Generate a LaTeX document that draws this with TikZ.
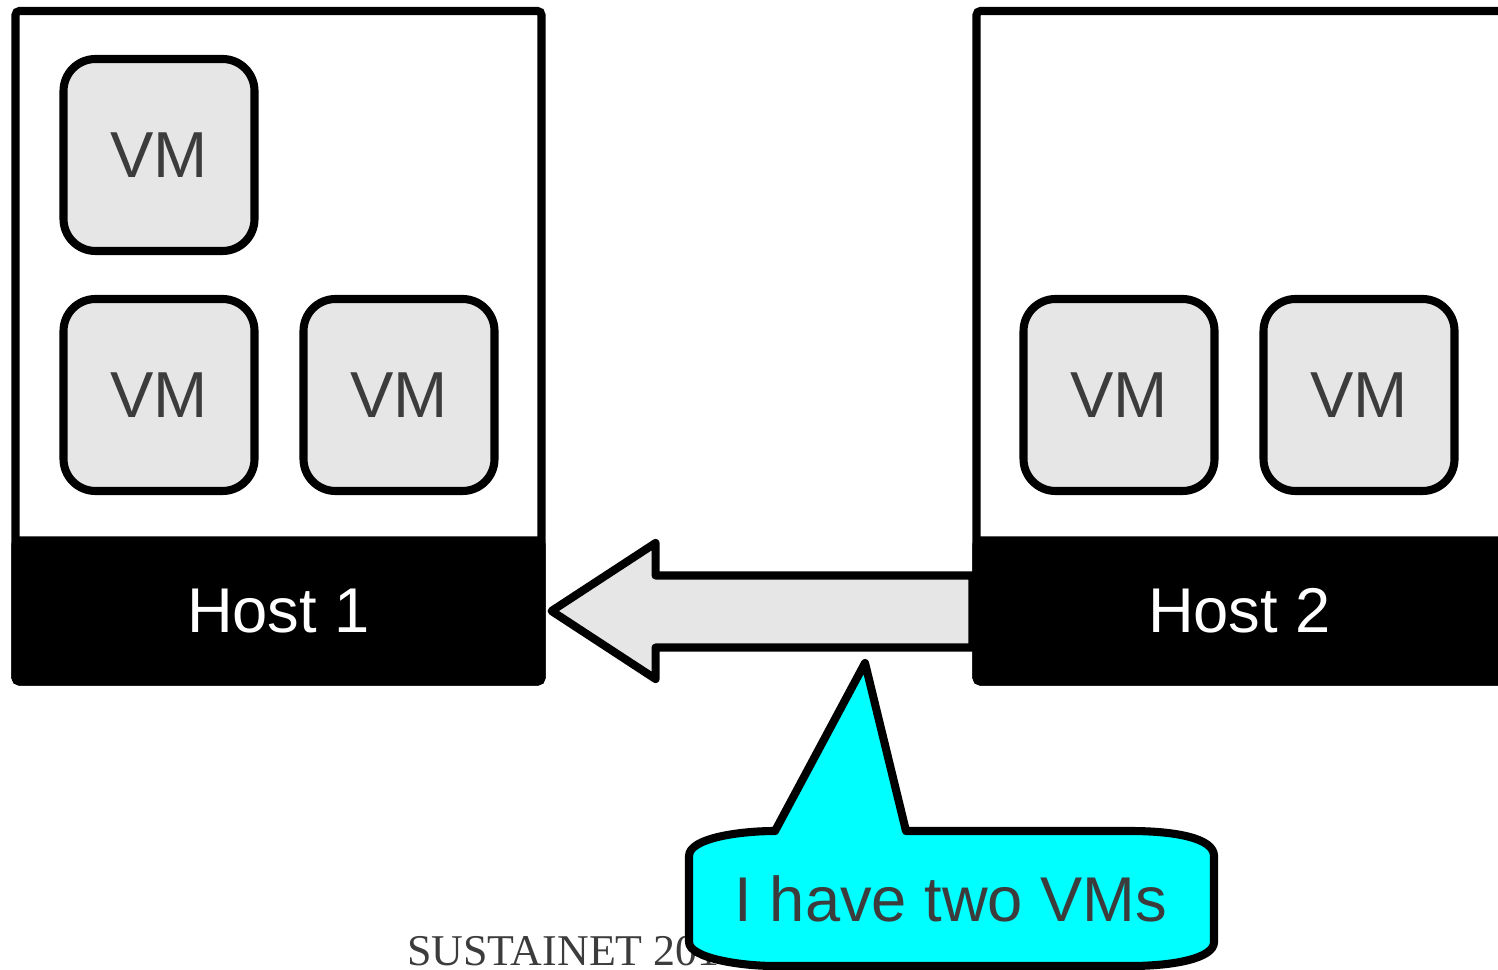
\documentclass[tikz,border=0pt]{standalone}
\usepackage{fontspec}
\setmainfont{Liberation Sans}
\newfontfamily\serfont{Liberation Serif}
\usetikzlibrary{calc}
\definecolor{vmgray}{HTML}{E6E6E6}
\definecolor{txtgray}{HTML}{3C3C3C}
\definecolor{aqua}{HTML}{00FFFF}
\tikzset{
  vm/.style={draw,fill=vmgray,rounded corners=3.2mm,minimum width=19.1mm,minimum height=19.2mm,inner sep=0pt,text=txtgray,font=\fontsize{18.5}{20}\selectfont},
  hst/.style={draw,rounded corners=0.4mm,minimum width=52.6mm,minimum height=67.05mm,inner sep=0pt},
  band/.style={draw,fill=black,rounded corners=0.4mm,minimum width=52.6mm,minimum height=14.1mm,inner sep=0pt,text=white,font=\fontsize{18}{20}\selectfont},
  blk/.style={draw,fill=vmgray,line join=round},
  bubble/.style={draw,fill=aqua,line join=round},
  say/.style={text=txtgray,font=\fontsize{18}{20}\selectfont,inner sep=0pt},
  every picture/.style={line width=2.3pt},
}
\begin{document}
\begin{tikzpicture}[x=0.1mm,y=-0.1mm]
\useasboundingbox (0,0) rectangle (1498,970); \clip (0,0) rectangle (1498,970);
% hosts
\node[band] (b1) at (278.5,611){Host 1}; \node[band] (b2) at (1239.5,611){Host 2};
\node[hst] (h1) at (278.5,346.25){}; \node[hst] (h2) at (1239.5,346.25){};
% vms
\node[vm] (v1) at (159,155){VM}; \node[vm] (v2) at (159,395){VM}; \node[vm] (v3) at (399,395){VM};
\node[vm] (v4) at (1119,395){VM}; \node[vm] (v5) at (1359,395){VM};
% migration arrow
\draw[blk] ($(b1.east)+(6,0)$) -- ($(b1.east)+(110,-68)$) -- ($(b1.east)+(110,-35.5)$) -- ($(b2.west)+(0,-35.5)$)
  -- ($(b2.west)+(0,36.5)$) -- ($(b1.east)+(110,36.5)$) -- ($(b1.east)+(110,68)$) -- cycle;
\node[anchor=base west,inner sep=0pt,text=txtgray,font=\serfont\fontsize{12.5}{14}\selectfont] (foot) at (403,965){SUSTAINET 201};
% callout
\coordinate (tip) at (865,663);
\draw[bubble] (689,856) .. controls (689,838) and (740,831) .. (775,831) -- (tip) -- (906,831) -- (1130,831)
  .. controls (1175,831) and (1214,838) .. (1214,856) -- (1214,942) .. controls (1214,958) and (1175,966) .. (1130,966)
  -- (775,966) .. controls (740,966) and (689,958) .. (689,942) -- cycle
  (951,899) node[say] (msg){I have two VMs};
\end{tikzpicture}
\end{document}
